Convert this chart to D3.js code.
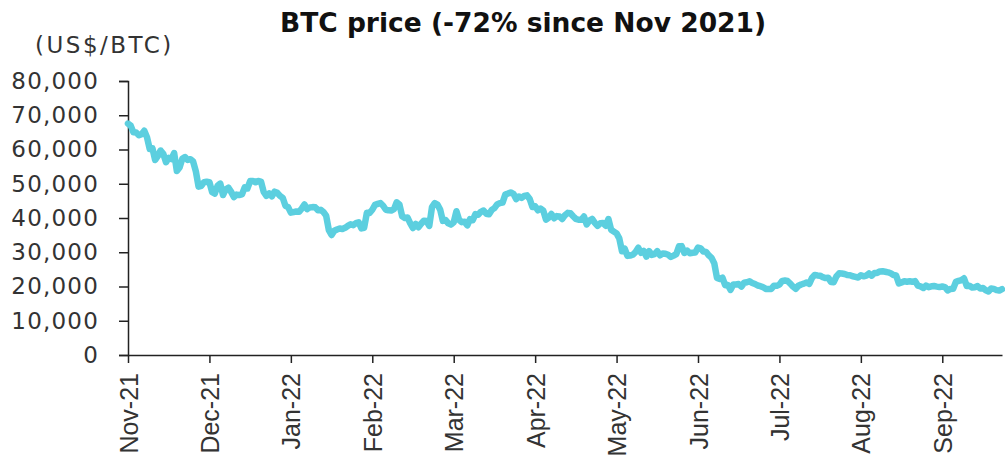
<!DOCTYPE html>
<html>
<head>
<meta charset="utf-8">
<script src="https://cdn.jsdelivr.net/npm/d3@7"></script>
<style>
  body { margin: 0; background: #fff; }
  svg { display: block; }
</style>
</head>
<body>
<div id="chart"></div>
<script>
// Dados: fecho diário do BTC (milhares de US$), de 8-Nov-2021 a 26-Sep-2022
const startDate = "2021-11-08";
const btcPrice = [
  67.57, 66.97, 65.00, 64.95, 64.16, 64.47, 65.47, 63.56, 60.16, 60.37, 56.94, 58.12, 59.70, 58.73, 56.29, 57.57, 57.20, 58.96, 53.73, 54.72, 57.27, 57.78, 56.95,
  57.18, 56.48, 53.60, 49.15, 49.40, 50.44, 50.59, 50.47, 47.55, 47.14, 49.39, 50.05, 46.70, 48.34, 48.86, 47.63, 46.13, 46.83, 46.71, 46.88, 48.94, 48.63, 50.78, 50.82, 50.43, 50.81, 50.64, 47.59, 46.44, 47.18, 46.31,
  47.69, 47.35, 46.46, 45.90, 43.57, 43.16, 41.56, 41.73, 41.91, 41.82, 42.74, 43.95, 42.59, 43.10, 43.18, 43.11, 42.25, 42.38, 41.74, 40.68, 36.46, 35.03, 36.28, 36.65, 36.95, 36.81, 37.14, 37.71, 38.17, 37.92, 38.48,
  38.74, 36.95, 37.15, 41.50, 41.44, 42.41, 43.84, 44.12, 44.34, 43.57, 42.41, 42.24, 42.20, 42.59, 44.58, 43.96, 40.54, 40.03, 40.12, 38.43, 37.07, 38.29, 37.30, 38.33, 39.21, 39.11, 37.71, 43.19,
  44.35, 43.92, 42.45, 39.14, 39.40, 38.42, 38.06, 38.74, 41.98, 39.44, 38.79, 38.90, 37.85, 39.67, 39.34, 41.14, 40.95, 41.80, 42.19, 41.25, 41.08, 42.36, 42.89, 43.96, 44.35, 44.50, 46.82, 47.13, 47.47, 47.06, 45.54,
  46.28, 45.87, 46.45, 46.62, 45.56, 43.21, 43.44, 42.25, 42.77, 42.16, 39.53, 40.13, 41.17, 39.94, 40.55, 40.42, 39.72, 40.83, 41.50, 41.37, 40.53, 39.74, 39.49, 39.47, 40.46, 38.12, 39.24, 39.74, 38.60, 37.71,
  38.47, 38.53, 37.75, 39.70, 36.58, 36.04, 35.50, 34.06, 30.30, 31.02, 28.94, 29.05, 29.28, 30.10, 31.31, 29.86, 30.42, 28.72, 30.31, 29.20, 29.43, 30.32, 29.10, 29.66, 29.56, 29.27, 28.63, 29.03, 29.47, 31.73, 31.79,
  29.80, 30.47, 29.70, 29.86, 29.91, 31.37, 31.13, 30.21, 30.11, 29.08, 28.36, 26.76, 22.49, 22.21, 22.58, 20.38, 20.47, 19.02, 20.55, 20.57, 20.71, 19.99, 21.09, 21.23, 21.50, 21.03, 20.73, 20.28, 20.10, 19.78,
  19.30, 19.25, 19.30, 20.23, 20.19, 20.55, 21.64, 21.73, 21.59, 20.86, 19.97, 19.32, 20.21, 20.59, 20.84, 21.19, 20.78, 22.49, 23.39, 23.23, 23.16, 22.71, 22.47, 22.58, 21.31, 21.25, 22.95, 23.84, 23.80, 23.65, 23.34,
  23.31, 22.98, 22.82, 22.63, 23.29, 22.96, 23.18, 23.81, 23.16, 23.95, 23.96, 24.40, 24.44, 24.31, 24.14, 23.85, 23.34, 23.21, 20.88, 21.17, 21.53, 21.40, 21.53, 21.40, 21.57, 20.26, 20.04, 19.55, 20.29, 19.82, 20.05,
  20.13, 19.97, 19.83, 19.99, 19.81, 18.84, 19.29, 19.32, 21.36, 21.65, 21.83, 22.40, 20.17, 20.23, 19.70, 19.80, 20.11, 19.42, 19.54, 18.88, 18.55, 19.41, 19.30, 18.94, 18.80, 19.22
];
const xTickLabels = ["Nov-21", "Dec-21", "Jan-22", "Feb-22", "Mar-22", "Apr-22", "May-22", "Jun-22", "Jul-22", "Aug-22", "Sep-22"];
const yTicks = [0, 10000, 20000, 30000, 40000, 50000, 60000, 70000, 80000];

const W = 1005, H = 465;
const x0 = 128, x1 = 1002, y0 = 355, y1 = 81;

const data = btcPrice.map((v, i) => ({ i: i, v: v * 1000 }));

const svg = d3.select("#chart").append("svg")
    .attr("width", W)
    .attr("height", H);

// Escalas
const xScale = d3.scaleLinear().domain([0, data.length - 1]).range([x0, x1]);
const yScale = d3.scaleLinear().domain([0, 80000]).range([y0, y1]);

// Eixo Y
const yAxis = d3.axisLeft(yScale)
    .tickValues(yTicks)
    .tickSize(9)
    .tickPadding(20)
    .tickFormat(d3.format(","));

const gy = svg.append("g")
    .attr("transform", `translate(${x0},0)`)
    .call(yAxis);
gy.select(".domain").attr("stroke", "#222").attr("stroke-width", 1.5);
gy.selectAll(".tick line").attr("stroke", "#222").attr("stroke-width", 1.5);
gy.selectAll(".tick text")
    .style("font-family", "DejaVu Sans")
    .style("font-size", "23px")
    .style("letter-spacing", "1.2px")
    .attr("fill", "#333");

// Eixo X (um rótulo a cada 30 dias)
const xAxis = d3.axisBottom(xScale)
    .tickValues(xTickLabels.map((d, k) => k * 30))
    .tickSize(8)
    .tickSizeOuter(0)
    .tickFormat((d, k) => xTickLabels[k]);

const gx = svg.append("g")
    .attr("transform", `translate(0,${y0})`)
    .call(xAxis);
gx.select(".domain").attr("stroke", "#222").attr("stroke-width", 1.5);
gx.selectAll(".tick line").attr("stroke", "#222").attr("stroke-width", 1.5);
gx.selectAll(".tick text")
    .style("font-family", "Liberation Sans")
    .style("font-size", "25px")
    .attr("fill", "#333")
    .attr("text-anchor", "end")
    .attr("transform", "rotate(-90)")
    .attr("x", -18)
    .attr("y", 0)
    .attr("dy", "0.36em");

// Linha do preço
const line = d3.line()
    .x(d => xScale(d.i))
    .y(d => yScale(d.v))
    .curve(d3.curveLinear);

svg.append("path")
    .datum(data)
    .attr("fill", "none")
    .attr("stroke", "#5ccfdf")
    .attr("stroke-width", 6.5)
    .attr("stroke-linejoin", "round")
    .attr("stroke-linecap", "round")
    .attr("d", line);

// Título e unidade
svg.append("text")
    .attr("x", 523)
    .attr("y", 32)
    .attr("text-anchor", "middle")
    .style("font-family", "DejaVu Sans")
    .style("font-weight", "bold")
    .style("font-size", "26.5px")
    .attr("fill", "#111")
    .text("BTC price (-72% since Nov 2021)");

svg.append("text")
    .attr("x", 35)
    .attr("y", 53)
    .style("font-family", "DejaVu Sans")
    .style("font-size", "23px")
    .style("letter-spacing", "2.5px")
    .attr("fill", "#333")
    .text("(US$/BTC)");
</script>
</body>
</html>
